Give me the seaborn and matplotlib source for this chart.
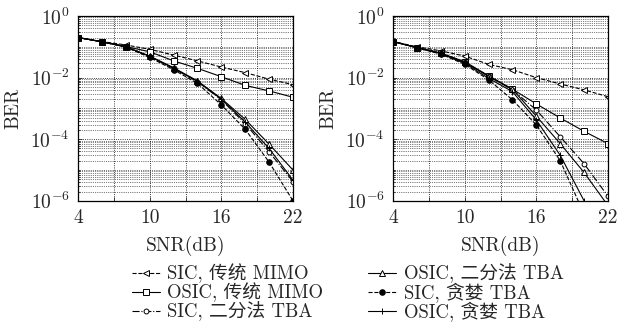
import matplotlib
matplotlib.use('agg')
from matplotlib import pyplot as plt
from matplotlib.ticker import LogLocator, NullFormatter
import seaborn as sns

snr = [4, 6, 8, 10, 12, 14, 16, 18, 20, 22]

# left panel
l_sic_trad = [0.2, 0.148, 0.115, 0.083, 0.054, 0.035, 0.022, 0.0145, 0.0089, 0.0059]
l_osic_trad = [0.2, 0.148, 0.102, 0.069, 0.035, 0.020, 0.0107, 0.0056, 0.0037, 0.0023]
l_sic_bis = [0.2, 0.145, 0.1, 0.048, 0.020, 0.0074, 0.0019, 3.2e-4, 3.9e-5, 4.2e-6]
l_osic_bis = [0.2, 0.145, 0.1, 0.05, 0.021, 0.0078, 0.0021, 4.4e-4, 6.9e-5, 1.0e-5]
l_sic_greedy = [0.2, 0.145, 0.098, 0.045, 0.018, 0.0065, 0.0013, 2.1e-4, 1.8e-5, 1.0e-6]
l_osic_greedy = [0.2, 0.145, 0.1, 0.049, 0.020, 0.0075, 0.0020, 3.6e-4, 5.0e-5, 4.7e-6]

# right panel
r_sic_trad = [0.148, 0.10, 0.074, 0.05, 0.027, 0.018, 0.010, 0.0062, 0.004, 0.0024]
r_osic_trad = [0.148, 0.093, 0.062, 0.033, 0.0115, 0.0042, 0.0014, 4.9e-4, 1.8e-4, 7.2e-5]
r_sic_bis = [0.148, 0.095, 0.063, 0.032, 0.011, 0.004, 8.9e-4, 1.2e-4, 1.6e-5, 1.4e-6]
r_osic_bis = [0.148, 0.095, 0.062, 0.031, 0.011, 0.0042, 5.6e-4, 7.2e-5, 8.3e-6, 7e-7]
r_sic_greedy = [0.148, 0.093, 0.058, 0.027, 0.0085, 0.0019, 2.9e-4, 2.0e-5, 3.7e-7, 1e-8]
r_osic_greedy = [0.148, 0.094, 0.06, 0.029, 0.0095, 0.0035, 4.2e-4, 3.0e-5, 1.0e-6, 3e-8]

labels = ['SIC, 传统 MIMO', 'OSIC, 传统 MIMO', 'SIC, 二分法 TBA',
          'OSIC, 二分法 TBA', 'SIC, 贪婪 TBA', 'OSIC, 贪婪 TBA']
styles = [('<', '--', 'white'), ('s', '-', 'white'), ('o', '-.', 'white'),
          ('^', '-', 'white'), ('o', '--', 'black'), ('+', '-', 'black')]

sns.set_style('ticks')
plt.rcParams['font.family'] = ['cmr10', 'Noto Sans CJK SC']
plt.rcParams['mathtext.fontset'] = 'cm'
plt.rcParams['axes.formatter.use_mathtext'] = True

fig = plt.figure(figsize=(6.3, 3.27), dpi=100)
ax1 = fig.add_axes([0.124, 0.386, 0.341, 0.565])
ax2 = fig.add_axes([0.624, 0.386, 0.341, 0.565])

panels = [(ax1, [l_sic_trad, l_osic_trad, l_sic_bis, l_osic_bis, l_sic_greedy, l_osic_greedy]),
          (ax2, [r_sic_trad, r_osic_trad, r_sic_bis, r_osic_bis, r_sic_greedy, r_osic_greedy])]

for ax, series in panels:
    for vals, lab, (m, ls, fc) in zip(series, labels, styles):
        sns.lineplot(x=snr, y=vals, ax=ax, color='black', marker=m, linestyle=ls,
                     markerfacecolor=fc, markeredgecolor='black',
                     markersize=4 if m != 'o' or fc == 'black' else 3.5,
                     markeredgewidth=0.7, linewidth=0.8, label=lab, legend=False)
    ax.set_yscale('log')
    ax.set_xlim(4, 22)
    ax.set_ylim(1e-6, 1)
    ax.set_xticks(range(4, 23, 3))
    ax.set_xticklabels(['4', '', '10', '', '16', '', '22'])
    ax.set_yticks([1, 1e-2, 1e-4, 1e-6])
    ax.set_yticklabels([r'$10^{0}$', r'$10^{-2}$', r'$10^{-4}$', r'$10^{-6}$'])
    ax.yaxis.set_minor_locator(LogLocator(base=10, subs=range(1, 10), numticks=20))
    ax.yaxis.set_minor_formatter(NullFormatter())
    ax.grid(which='major', linestyle=':', color='black', linewidth=0.6)
    ax.grid(which='minor', axis='y', linestyle=':', color='black', linewidth=0.5)
    ax.tick_params(which='both', direction='in', labelsize=14, length=3, width=0.6, pad=6)
    ax.tick_params(which='minor', length=1.5)
    for sp in ax.spines.values():
        sp.set_linewidth(0.9)
        sp.set_color('black')
    ax.set_xlabel('SNR(dB)', fontsize=14)
    ax.set_ylabel('BER', fontsize=14)
    ax.xaxis.set_label_coords(0.5, -0.19)
    ax.yaxis.set_label_coords(-0.26, 0.5)

handles, labs = ax1.get_legend_handles_labels()
fig.legend(handles, labs, ncol=2,
           loc='lower center', bbox_to_anchor=(0.552, -0.013), frameon=False,
           fontsize=13.5, handlelength=1.5, handletextpad=0.4, columnspacing=2.4,
           labelspacing=-0.05, borderpad=0)

fig.savefig('out.png', dpi=100)
